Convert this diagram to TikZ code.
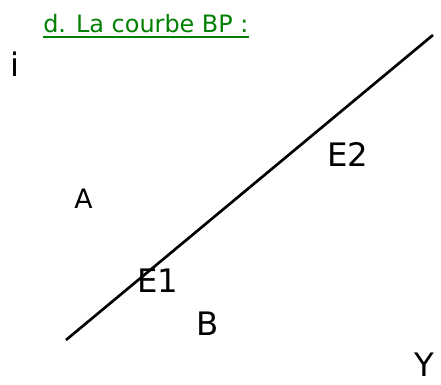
\documentclass[tikz,border=0pt]{standalone}
\usepackage{fontspec}
\setmainfont{DejaVu Sans}
\usepackage{xcolor}
\usetikzlibrary{positioning}
\definecolor{titleGreen}{HTML}{008000}

\begin{document}
\begin{tikzpicture}[
  x=0.025cm, y=-0.025cm,
  every node/.style={inner sep=0pt, anchor=base west},
  bigletter/.style={font=\fontsize{23}{23}\selectfont, text=black},
  smallletter/.style={font=\fontsize{19}{19}\selectfont, text=black},
  heading/.style={font=\fontsize{17}{17}\selectfont, text=titleGreen},
  bpline/.style={line width=1.9pt, black},
]
\useasboundingbox (0,0) rectangle (441,385);

% === Title ===
\node[heading] (title) at (43,33) {d. La courbe BP :};
\draw[titleGreen, line width=1.6pt]
  ([yshift=-3pt]title.base west) -- ([yshift=-3pt]title.base east);

% === Axis letters ===
\node[bigletter] (ilab) at (10,77) {i};
\node[bigletter] (ylab) at (414,377) {Y};

% === BP line ===
\coordinate (bplow) at (66,340);
\coordinate (bphigh) at (433,35);
\draw[bpline] (bplow) -- (bphigh);

% === Points and regions ===
\node[bigletter] (e1) at (137,293) {E1};
\node[bigletter] (e2) at (327,167) {E2};
\node[smallletter] (areaA) at (74,209) {A};
\node[bigletter] (areaB) at (196,336) {B};

\end{tikzpicture}
\end{document}
